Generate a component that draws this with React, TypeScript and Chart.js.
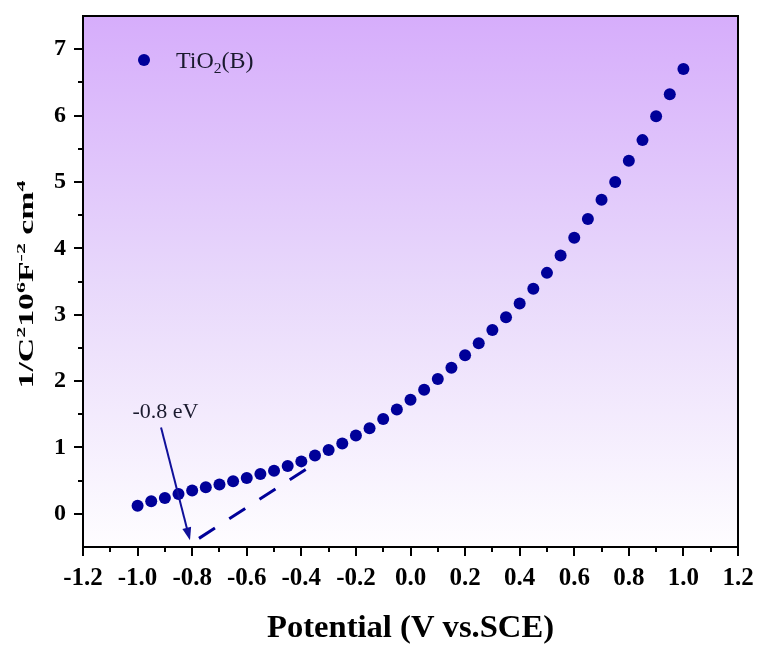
import React, { useEffect, useRef } from 'react';
import { Chart, registerables } from 'chart.js';

Chart.register(...registerables);

const SERIES_LABEL = 'TiO2(B)';
const POTENTIAL = [
  -1.0, -0.95, -0.9, -0.85, -0.8, -0.75, -0.7, -0.65, -0.6, -0.55, -0.5,
  -0.45, -0.4, -0.35, -0.3, -0.25, -0.2, -0.15, -0.1, -0.05, 0.0,
  0.05, 0.1, 0.15, 0.2, 0.25, 0.3, 0.35, 0.4, 0.45, 0.5,
  0.55, 0.6, 0.65, 0.7, 0.75, 0.8, 0.85, 0.9, 0.95, 1.0,
];
const INV_C2 = [
  0.12, 0.19, 0.24, 0.3, 0.35, 0.4, 0.44, 0.49, 0.54, 0.6, 0.65,
  0.72, 0.79, 0.88, 0.96, 1.06, 1.18, 1.29, 1.43, 1.57, 1.72,
  1.87, 2.03, 2.2, 2.39, 2.57, 2.77, 2.96, 3.17, 3.39, 3.63,
  3.89, 4.16, 4.44, 4.73, 5.0, 5.32, 5.63, 5.99, 6.32, 6.7,
];
const FIT_X = [-0.775, -0.383];
const FIT_Y = [-0.37, 0.67];
const ARROW_X = [-0.914, -0.808];
const ARROW_Y = [1.3, -0.4];
const ANNOT_TEXT = '-0.8 eV';
const ANNOT_X = -0.898;
const ANNOT_Y = 1.45;

const X_TICKS = [-1.2, -1.0, -0.8, -0.6, -0.4, -0.2, 0.0, 0.2, 0.4, 0.6, 0.8, 1.0, 1.2];
const X_MINOR = [-1.1, -0.9, -0.7, -0.5, -0.3, -0.1, 0.1, 0.3, 0.5, 0.7, 0.9, 1.1];
const Y_TICKS = [0, 1, 2, 3, 4, 5, 6, 7];
const Y_MINOR = [0.5, 1.5, 2.5, 3.5, 4.5, 5.5, 6.5];
const X_MIN = -1.2;
const X_MAX = 1.2;
const Y_MIN = -0.5;
const Y_MAX = 7.5;

const X_TITLE = 'Potential (V vs.SCE)';
const Y_TITLE_SEGS = [
  { t: '1/C' }, { t: '2', sup: true }, { t: '10' }, { t: '6', sup: true },
  { t: 'F' }, { t: '-2', sup: true }, { t: ' cm' }, { t: '4', sup: true },
];
const LEGEND_SEGS = [{ t: 'TiO' }, { t: '2', sub: true }, { t: '(B)' }];

const SERIF = "'Liberation Serif', 'Times New Roman', serif";
const MARK = '#000099';

type Seg = { t: string; sup?: boolean; sub?: boolean };

function richWidth(ctx: CanvasRenderingContext2D, segs: Seg[], size: number, weight: string) {
  let w = 0;
  for (const s of segs) {
    const fs = s.sup || s.sub ? size * 0.65 : size;
    ctx.font = `${weight} ${fs}px ${SERIF}`;
    w += ctx.measureText(s.t).width;
  }
  return w;
}

function drawRich(ctx: CanvasRenderingContext2D, segs: Seg[], size: number, weight: string, x: number, y: number) {
  let cx = x;
  ctx.textAlign = 'left';
  ctx.textBaseline = 'alphabetic';
  for (const s of segs) {
    const fs = s.sup || s.sub ? size * 0.65 : size;
    ctx.font = `${weight} ${fs}px ${SERIF}`;
    let dy = 0;
    if (s.sup) dy = -size * 0.42;
    if (s.sub) dy = size * 0.22;
    ctx.fillText(s.t, cx, y + dy);
    cx += ctx.measureText(s.t).width;
  }
}

const decorPlugin = {
  id: 'decor',
  beforeDraw(chart: any) {
    const { ctx, chartArea: a } = chart;
    ctx.save();
    const g = ctx.createLinearGradient(0, a.top, 0, a.bottom);
    g.addColorStop(0, '#d6adfb');
    g.addColorStop(0.5, '#e8d8fb');
    g.addColorStop(1, '#fefdff');
    ctx.fillStyle = g;
    ctx.fillRect(a.left, a.top, a.right - a.left, a.bottom - a.top);
    ctx.restore();
  },
  afterDraw(chart: any) {
    const { ctx, chartArea: a } = chart;
    const xs = chart.scales.x;
    const ys = chart.scales.y;
    ctx.save();
    // frame
    ctx.strokeStyle = '#000';
    ctx.lineWidth = 2;
    ctx.strokeRect(a.left, a.top, a.right - a.left, a.bottom - a.top);
    // minor ticks
    ctx.lineWidth = 2;
    ctx.beginPath();
    for (const v of X_MINOR) {
      const px = Math.round(xs.getPixelForValue(v));
      ctx.moveTo(px, a.bottom);
      ctx.lineTo(px, a.bottom + 5);
    }
    for (const v of Y_MINOR) {
      const py = Math.round(ys.getPixelForValue(v));
      ctx.moveTo(a.left, py);
      ctx.lineTo(a.left - 5, py);
    }
    ctx.stroke();

    // arrow
    const x0 = xs.getPixelForValue(ARROW_X[0]);
    const y0 = ys.getPixelForValue(ARROW_Y[0]);
    const x1 = xs.getPixelForValue(ARROW_X[1]);
    const y1 = ys.getPixelForValue(ARROW_Y[1]);
    const ang = Math.atan2(y1 - y0, x1 - x0);
    const head = 13;
    const half = 4.5;
    ctx.strokeStyle = '#10109a';
    ctx.fillStyle = '#10109a';
    ctx.lineWidth = 2;
    ctx.beginPath();
    ctx.moveTo(x0, y0);
    ctx.lineTo(x1 - Math.cos(ang) * head * 0.8, y1 - Math.sin(ang) * head * 0.8);
    ctx.stroke();
    ctx.beginPath();
    ctx.moveTo(x1, y1);
    ctx.lineTo(
      x1 - Math.cos(ang) * head + Math.cos(ang + Math.PI / 2) * half,
      y1 - Math.sin(ang) * head + Math.sin(ang + Math.PI / 2) * half
    );
    ctx.lineTo(
      x1 - Math.cos(ang) * head - Math.cos(ang + Math.PI / 2) * half,
      y1 - Math.sin(ang) * head - Math.sin(ang + Math.PI / 2) * half
    );
    ctx.closePath();
    ctx.fill();

    // annotation text
    ctx.fillStyle = '#1a1a2e';
    ctx.font = `22px ${SERIF}`;
    ctx.textAlign = 'center';
    ctx.textBaseline = 'alphabetic';
    ctx.fillText(ANNOT_TEXT, xs.getPixelForValue(ANNOT_X), ys.getPixelForValue(ANNOT_Y));

    // legend
    ctx.fillStyle = MARK;
    ctx.beginPath();
    ctx.arc(a.left + 61, a.top + 44, 6, 0, Math.PI * 2);
    ctx.fill();
    ctx.fillStyle = '#1a1a2e';
    drawRich(ctx, LEGEND_SEGS, 24, 'normal', a.left + 93, a.top + 52);

    // x title
    ctx.fillStyle = '#000';
    {
      const w = richWidth(ctx, [{ t: X_TITLE }], 31, 'bold');
      const target = 287;
      const s = target / w;
      ctx.save();
      ctx.translate((a.left + a.right) / 2 - target / 2, 637);
      ctx.scale(s, 1);
      drawRich(ctx, [{ t: X_TITLE }], 31, 'bold', 0, 0);
      ctx.restore();
    }
    // y title
    {
      const w = richWidth(ctx, Y_TITLE_SEGS, 20, 'bold');
      const target = 208;
      const s = target / w;
      ctx.save();
      ctx.translate(33, (a.top + a.bottom) / 2 + target / 2 + 3);
      ctx.rotate(-Math.PI / 2);
      ctx.scale(s, 1);
      drawRich(ctx, Y_TITLE_SEGS, 20, 'bold', 0, 0);
      ctx.restore();
    }
    ctx.restore();
  },
};

function zeroPad(s: any) {
  s.paddingTop = 0;
  s.paddingBottom = 0;
  s.paddingLeft = 0;
  s.paddingRight = 0;
}

export default function App() {
  const ref = useRef<HTMLCanvasElement | null>(null);
  useEffect(() => {
    if (!ref.current) return;
    const points = POTENTIAL.map((x, i) => ({ x, y: INV_C2[i] }));
    const fit = FIT_X.map((x, i) => ({ x, y: FIT_Y[i] }));
    const chart = new Chart(ref.current, {
      type: 'scatter',
      data: {
        datasets: [
          {
            label: SERIES_LABEL,
            data: points,
            pointRadius: 6,
            pointBackgroundColor: MARK,
            pointBorderColor: MARK,
            pointBorderWidth: 0,
            showLine: false,
          } as any,
          {
            type: 'line',
            label: 'fit',
            data: fit,
            borderColor: MARK,
            borderWidth: 3,
            borderDash: [19, 17],
            pointRadius: 0,
            fill: false,
          } as any,
        ],
      },
      options: {
        responsive: false,
        animation: false,
        events: [],
        layout: { padding: { top: 16, right: 21, left: 0, bottom: 0 } },
        plugins: { legend: { display: false }, tooltip: { enabled: false } },
        scales: {
          x: {
            type: 'linear',
            min: X_MIN,
            max: X_MAX,
            afterBuildTicks: (s: any) => {
              s.ticks = X_TICKS.map((v) => ({ value: v }));
            },
            afterFit: (s: any) => {
              s.height = 99;
              zeroPad(s);
            },
            ticks: {
              autoSkip: false,
              maxRotation: 0,
              color: '#000',
              padding: 8,
              font: { family: SERIF, size: 25, weight: 'bold' },
              callback: (v: any) => (Math.abs(Number(v)) < 1e-9 ? '0.0' : Number(v).toFixed(1)),
            },
            grid: { drawOnChartArea: false, drawTicks: true, tickLength: 9, lineWidth: 2, color: '#000' },
            border: { display: true, color: '#000', width: 2 },
          },
          y: {
            type: 'linear',
            min: Y_MIN,
            max: Y_MAX,
            afterBuildTicks: (s: any) => {
              s.ticks = Y_TICKS.map((v) => ({ value: v }));
            },
            afterFit: (s: any) => {
              s.width = 83;
              zeroPad(s);
            },
            ticks: {
              autoSkip: false,
              color: '#000',
              padding: 8,
              font: { family: SERIF, size: 24, weight: 'bold' },
              callback: (v: any) => String(v),
            },
            grid: { drawOnChartArea: false, drawTicks: true, tickLength: 9, lineWidth: 2, color: '#000' },
            border: { display: true, color: '#000', width: 2 },
          },
        },
      } as any,
      plugins: [decorPlugin],
    });
    return () => chart.destroy();
  }, []);
  return (
    <div style={{ position: 'fixed', left: 0, top: 0, width: 759, height: 646, background: '#fff' }}>
      <canvas ref={ref} width={759} height={646} style={{ display: 'block' }} />
    </div>
  );
}
